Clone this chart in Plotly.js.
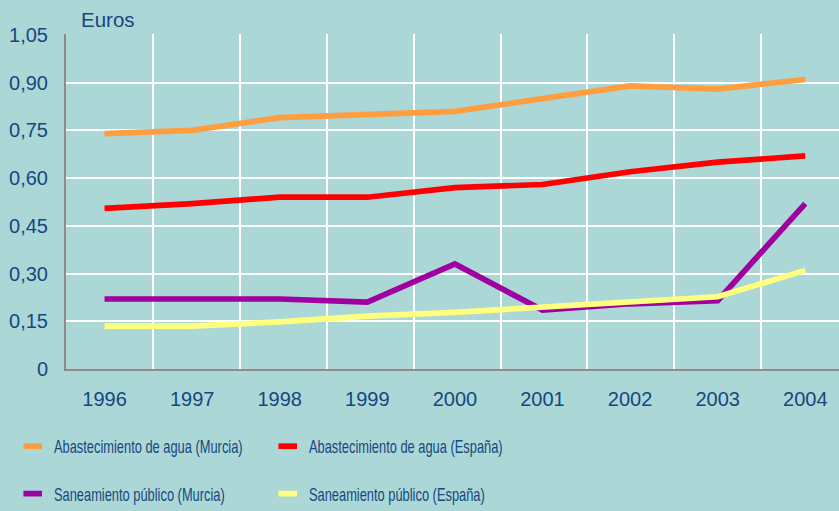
<!DOCTYPE html>
<html>
<head>
<meta charset="utf-8">
<script src="https://cdn.plot.ly/plotly-3.0.1.min.js"></script>
<style>
html,body{margin:0;padding:0;background:#abd7d6;}
#chart{width:839px;height:511px;}
#chart g[class^="legend"] text,
#chart text.legendtext {
  transform-box: fill-box;
  transform-origin: 0% 50%;
  transform: scaleX(0.715);
}
#chart g[class^="legend"] .legendlines path {
  transform-box: fill-box;
  transform-origin: 100% 50%;
  transform: translateX(-7px) scaleX(0.62);
}
</style>
</head>
<body>
<div id="chart"></div>
<script>
const years = [1996, 1997, 1998, 1999, 2000, 2001, 2002, 2003, 2004];
const yearLabels = ['1996','1997','1998','1999','2000','2001','2002','2003','2004'];
const aguaMurcia = [0.74, 0.75, 0.79, 0.80, 0.81, 0.85, 0.89, 0.88, 0.91];
const aguaEspana = [0.505, 0.52, 0.54, 0.54, 0.57, 0.58, 0.62, 0.65, 0.67];
const saneMurcia = [0.22, 0.22, 0.22, 0.21, 0.33, 0.185, 0.205, 0.215, 0.52];
const saneEspana = [0.135, 0.135, 0.148, 0.166, 0.178, 0.195, 0.208, 0.227, 0.31];
const yTickVals = [0, 0.15, 0.30, 0.45, 0.60, 0.75, 0.90, 1.05];
const yTickText = ['0', '0,15', '0,30', '0,45', '0,60', '0,75', '0,90', '1,05'];
const names = ['Abastecimiento de agua (Murcia)', 'Abastecimiento de agua (España)',
               'Saneamiento público (Murcia)', 'Saneamiento público (España)'];

const txt = '#17477f';
const legendFont = {family: '"Liberation Sans", Arial, sans-serif', size: 18, color: txt};

function tr(y, name, color, legend) {
  return {x: years, y: y, name: name, type: 'scatter', mode: 'lines',
          line: {color: color, width: 5.7}, legend: legend, legendgroup: name,
          hoverinfo: 'x+y'};
}
const data = [
  tr(aguaMurcia, names[0], '#ff9e40', 'legend'),
  tr(aguaEspana, names[1], '#ff0000', 'legend2'),
  tr(saneMurcia, names[2], '#a000a0', 'legend'),
  tr(saneEspana, names[3], '#ffff80', 'legend2'),
  {x: [1996], y: [null], xaxis: 'x2', showlegend: false, hoverinfo: 'skip', type: 'scatter'}
];

const layout = {
  width: 839, height: 511,
  margin: {l: 66, r: 0, t: 34, b: 142, autoexpand: false},
  paper_bgcolor: '#abd7d6', plot_bgcolor: '#abd7d6',
  font: {family: '"Liberation Sans", Arial, sans-serif', color: txt, size: 20},
  xaxis: {
    type: 'linear', range: [1995.56, 2004.385], tickmode: 'array',
    tickvals: years, ticktext: yearLabels, showgrid: false, zeroline: false,
    showline: true, linecolor: '#8c8c8c', linewidth: 2, ticks: '', tickangle: 0,
    ticklabelstandoff: 11, tickfont: {size: 20, color: txt}
  },
  xaxis2: {
    overlaying: 'x', anchor: 'y', type: 'linear', range: [1995.56, 2004.385],
    tickmode: 'linear', tick0: 1996.553, dtick: 0.992, showgrid: true,
    gridcolor: '#ffffff', gridwidth: 2, showticklabels: false, zeroline: false,
    showline: false, ticks: ''
  },
  yaxis: {
    range: [0, 1.053], tickmode: 'array', tickvals: yTickVals, ticktext: yTickText,
    showgrid: true, gridcolor: '#ffffff', gridwidth: 2, zeroline: false,
    showline: true, linecolor: '#8c8c8c', linewidth: 2, ticks: '',
    ticklabelstandoff: 12, tickfont: {size: 20, color: txt}
  },
  annotations: [{
    text: 'Euros', xref: 'paper', yref: 'paper', x: 13/773, xanchor: 'left',
    y: 1, yanchor: 'bottom', yshift: 1, showarrow: false, font: {size: 20.5, color: txt}
  }],
  showlegend: true,
  legend: {xref: 'container', yref: 'container', x: 14/839, y: 1 - 428/511,
           xanchor: 'left', yanchor: 'top', bgcolor: 'rgba(0,0,0,0)',
           font: legendFont, tracegroupgap: 21, orientation: 'v'},
  legend2: {xref: 'container', yref: 'container', x: 269/839, y: 1 - 428/511,
           xanchor: 'left', yanchor: 'top', bgcolor: 'rgba(0,0,0,0)',
           font: legendFont, tracegroupgap: 21, orientation: 'v'}
};

Plotly.newPlot('chart', data, layout, {displayModeBar: false, staticPlot: true});
</script>
</body>
</html>
